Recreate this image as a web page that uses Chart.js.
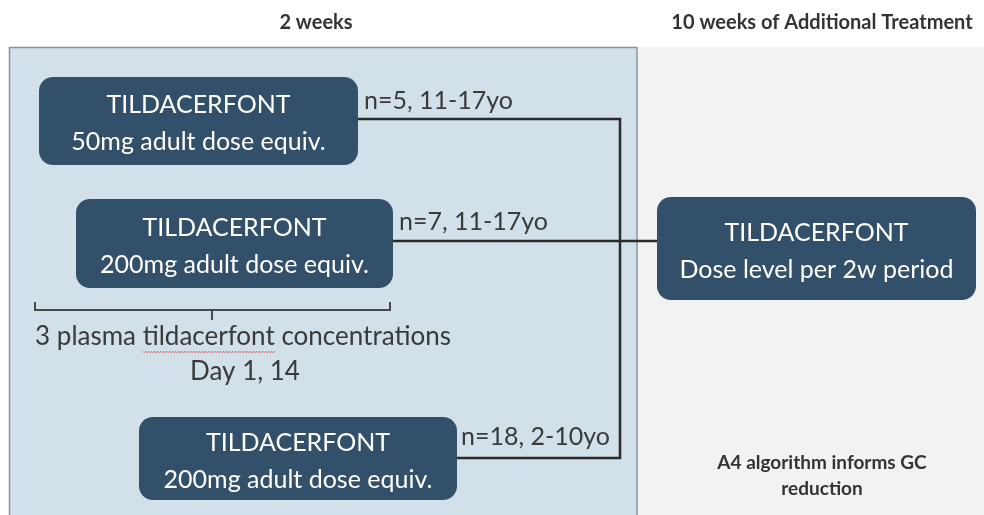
<!DOCTYPE html>
<html>
<head>
<meta charset="utf-8">
<script src="https://cdn.jsdelivr.net/npm/chart.js@4.4.1/dist/chart.umd.min.js"></script>
<style>
  body { margin: 0; background: #fff; }
  #wrap { width: 984px; height: 515px; }
</style>
</head>
<body>
<div id="wrap"><canvas id="diagram" width="984" height="515"></canvas></div>
<script>
// column headers
const headers = ['2 weeks', '10 weeks of Additional Treatment']
const headerX = [316, 822]

// treatment boxes: text lines and extents (diagram units)
const boxLines = [
  ['TILDACERFONT', '50mg adult dose equiv.'],
  ['TILDACERFONT', '200mg adult dose equiv.'],
  ['TILDACERFONT', '200mg adult dose equiv.'],
  ['TILDACERFONT', 'Dose level per 2w period']
]
const boxX0 = [39, 76, 139, 657]
const boxX1 = [358, 393, 457, 976]
const boxY0 = [77, 199, 417, 197]
const boxY1 = [165, 288, 500, 300]

// cohort labels
const cohorts = ['n=5, 11-17yo', 'n=7, 11-17yo', 'n=18, 2-10yo']
const cohortX = [364, 399, 461]
const cohortY = [101, 222, 437]

// connectors
const topArm = [{x: 358, y: 119}, {x: 620, y: 119}, {x: 620, y: 458}, {x: 457, y: 458}]
const midArm = [{x: 393, y: 241}, {x: 657, y: 241}]
const bracket = [{x: 35, y: 302}, {x: 35, y: 310}, {x: 212, y: 310}, {x: 212, y: 320},
                 {x: 212, y: 310}, {x: 390, y: 310}, {x: 390, y: 302}]

const noteLines = ['3 plasma tildacerfont concentrations', 'Day 1, 14']
const algoLines = ['A4 algorithm informs GC', 'reduction']

const BOX = '#33506a'

const drawPlugin = {
  id: 'diagram',
  beforeDatasetsDraw(chart) {
    const ctx = chart.ctx
    const x = chart.scales.x, y = chart.scales.y
    ctx.save()
    // left panel
    ctx.fillStyle = '#d1e0e9'
    ctx.fillRect(x.getPixelForValue(9), y.getPixelForValue(47), x.getPixelForValue(637) - x.getPixelForValue(9), 480)
    ctx.strokeStyle = '#8394a0'
    ctx.lineWidth = 1.5
    ctx.strokeRect(x.getPixelForValue(9.5), y.getPixelForValue(47.5), x.getPixelForValue(637) - x.getPixelForValue(9.5), 480)
    // right panel
    ctx.fillStyle = '#f2f2f2'
    ctx.fillRect(x.getPixelForValue(638), y.getPixelForValue(47), 346, 480)

    // headers
    ctx.fillStyle = '#333'
    ctx.font = 'bold 20px Lato'
    ctx.textAlign = 'center'
    ctx.textBaseline = 'middle'
    headers.forEach((h, i) => ctx.fillText(h, x.getPixelForValue(headerX[i]), y.getPixelForValue(23)))
    ctx.restore()
  },
  afterDatasetsDraw(chart) {
    const ctx = chart.ctx
    const x = chart.scales.x, y = chart.scales.y
    ctx.save()
    boxLines.forEach((lines, i) => {
      const l = x.getPixelForValue(boxX0[i]), r = x.getPixelForValue(boxX1[i])
      const t = y.getPixelForValue(boxY0[i]), b = y.getPixelForValue(boxY1[i])
      ctx.fillStyle = BOX
      ctx.beginPath()
      ctx.roundRect(l, t, r - l, b - t, 14)
      ctx.fill()
      ctx.fillStyle = '#fff'
      ctx.font = '25px Lato'
      ctx.textAlign = 'center'
      ctx.textBaseline = 'middle'
      const cx = (l + r) / 2, cy = (t + b) / 2
      ctx.fillText(lines[0], cx, cy - 16)
      ctx.fillText(lines[1], cx, cy + 21)
    })

    ctx.fillStyle = '#3a3a3a'
    ctx.font = '25px Lato'
    ctx.textAlign = 'left'
    ctx.textBaseline = 'middle'
    cohorts.forEach((c, i) => ctx.fillText(c, x.getPixelForValue(cohortX[i]), y.getPixelForValue(cohortY[i])))

    ctx.font = '26px Lato'
    ctx.textAlign = 'center'
    const nx = x.getPixelForValue(243), ny = y.getPixelForValue(337)
    ctx.fillText(noteLines[0], nx, ny)
    ctx.fillText(noteLines[1], x.getPixelForValue(245), y.getPixelForValue(372))

    // spell-check squiggle under the drug name
    const full = ctx.measureText(noteLines[0]).width
    const sx = nx - full / 2 + ctx.measureText('3 plasma ').width
    const ex = sx + ctx.measureText('tildacerfont').width
    ctx.strokeStyle = 'rgba(220,40,40,0.75)'
    ctx.lineWidth = 0.8
    ctx.beginPath()
    let k = 0
    for (let px = sx; px <= ex; px += 1.5, k++) {
      const py = ny + 15 + (k % 2 ? 0.8 : -0.8)
      k === 0 ? ctx.moveTo(px, py) : ctx.lineTo(px, py)
    }
    ctx.stroke()

    ctx.fillStyle = '#333'
    ctx.font = 'bold 19px Lato'
    ctx.fillText(algoLines[0], x.getPixelForValue(822), y.getPixelForValue(463))
    ctx.fillText(algoLines[1], x.getPixelForValue(822), y.getPixelForValue(489))
    ctx.restore()
  }
}

const lineStyle = { showLine: true, borderColor: '#2b2b2b', borderWidth: 2.5, pointRadius: 0, fill: false, tension: 0 }

new Chart(document.getElementById('diagram'), {
  type: 'scatter',
  data: {
    datasets: [
      { data: topArm, ...lineStyle },
      { data: midArm, ...lineStyle },
      { data: bracket, ...lineStyle, borderColor: '#4a4a4a', borderWidth: 2 }
    ]
  },
  options: {
    responsive: false,
    animation: false,
    layout: { padding: 0 },
    plugins: { legend: { display: false }, tooltip: { enabled: false } },
    scales: {
      x: { type: 'linear', min: 0, max: 984, display: false },
      y: { type: 'linear', min: 0, max: 515, reverse: true, display: false }
    }
  },
  plugins: [drawPlugin]
})
</script>
</body>
</html>
